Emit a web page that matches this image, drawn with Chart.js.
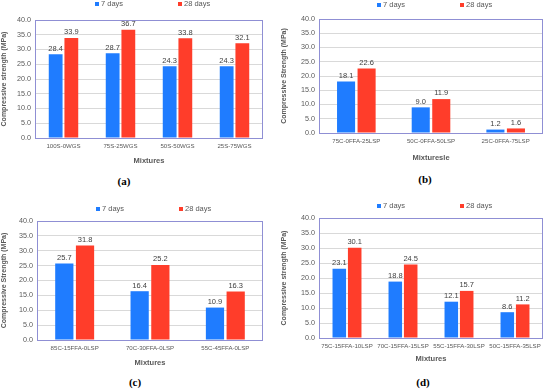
<!DOCTYPE html>
<html>
<head>
<meta charset="utf-8">
<script src="https://cdn.jsdelivr.net/npm/chart.js@4.4.0/dist/chart.umd.min.js"></script>
<style>
  body { margin:0; background:#fff; width:550px; height:389px; position:relative; overflow:hidden; font-family:"Liberation Sans", Arial, sans-serif; }
  .box { position:absolute; }
  .tag { position:absolute; width:40px; text-align:center; font-family:"Liberation Serif","Times New Roman",serif; font-weight:bold; font-size:11px; color:#000; }
</style>
</head>
<body>
<div class="box" style="left:0;top:0;width:272px;height:170px"><canvas id="chartA"></canvas></div>
<div class="box" style="left:280px;top:0;width:270px;height:165px"><canvas id="chartB"></canvas></div>
<div class="box" style="left:0;top:198px;width:272px;height:172px"><canvas id="chartC"></canvas></div>
<div class="box" style="left:280px;top:196px;width:270px;height:170px"><canvas id="chartD"></canvas></div>
<div class="tag" style="left:104px;top:175px">(a)</div>
<div class="tag" style="left:405px;top:173px">(b)</div>
<div class="tag" style="left:115px;top:376px">(c)</div>
<div class="tag" style="left:403px;top:376px">(d)</div>
<script>
  // ======== Data ========
  const seriesNames = ['7 days', '28 days'];
  const yTicks = [0, 5, 10, 15, 20, 25, 30, 35, 40];

  const mixA = ['100S-0WGS', '75S-25WGS', '50S-50WGS', '25S-75WGS'];
  const a7 = [28.4, 28.7, 24.3, 24.3];
  const a28 = [33.9, 36.7, 33.8, 32.1];

  const mixB = ['75C-0FFA-25LSP', '50C-0FFA-50LSP', '25C-0FFA-75LSP'];
  const b7 = [18.1, 9.0, 1.2];
  const b28 = [22.6, 11.9, 1.6];

  const mixC = ['85C-15FFA-0LSP', '70C-30FFA-0LSP', '55C-45FFA-0LSP'];
  const c7 = [25.7, 16.4, 10.9];
  const c28 = [31.8, 25.2, 16.3];

  const mixD = ['75C-15FFA-10LSP', '70C-15FFA-15LSP', '55C-15FFA-30LSP', '50C-15FFA-35LSP'];
  const d7 = [23.1, 18.8, 12.1, 8.6];
  const d28 = [30.1, 24.5, 15.7, 11.2];

  // ======== Styles ========
  const BLUE = '#1f7cff';
  const RED = '#ff3d2a';
  const TXT = '#595959';

  // frame around plot area + legend + value labels
  const extras = {
    id: 'extras',
    afterDraw(chart) {
      const { ctx, chartArea: a } = chart;
      ctx.save();
      ctx.strokeStyle = '#8f8fd4';
      ctx.lineWidth = 1;
      ctx.strokeRect(a.left + 0.5, a.top + 0.5, a.right - a.left - 1, a.bottom - a.top);

      // values on top of bars
      ctx.font = '7.5px "Liberation Sans", Arial, sans-serif';
      ctx.fillStyle = '#404040';
      ctx.textAlign = 'center';
      ctx.textBaseline = 'bottom';
      chart.data.datasets.forEach((ds, di) => {
        chart.getDatasetMeta(di).data.forEach((bar, i) => {
          ctx.fillText(ds.data[i].toFixed(1), bar.x, bar.y - 2);
        });
      });

      // legend
      const mid = (a.left + a.right) / 2;
      const offs = [-52, 31];
      const ly = chart.options.plugins.extras.legendY;
      ctx.textAlign = 'left';
      ctx.textBaseline = 'middle';
      ctx.font = '7.5px "Liberation Sans", Arial, sans-serif';
      chart.data.datasets.forEach((ds, di) => {
        const x = mid + offs[di];
        ctx.fillStyle = ds.backgroundColor;
        ctx.fillRect(x - 2, ly - 2, 4, 4);
        ctx.fillStyle = TXT;
        ctx.fillText(ds.label, x + 4, ly);
      });
      ctx.restore();
    }
  };

  function makeChart(id, labels, v7, v28, cfg) {
    return new Chart(document.getElementById(id), {
      type: 'bar',
      data: {
        labels: labels,
        datasets: [
          { label: seriesNames[0], data: v7, backgroundColor: BLUE, categoryPercentage: 0.55, barPercentage: 0.88 },
          { label: seriesNames[1], data: v28, backgroundColor: RED, categoryPercentage: 0.55, barPercentage: 0.88 }
        ]
      },
      options: {
        responsive: true,
        maintainAspectRatio: false,
        animation: false,
        layout: { padding: { top: cfg.top, right: cfg.right, left: 0, bottom: 0 } },
        plugins: {
          legend: { display: false },
          tooltip: { enabled: false },
          extras: { legendY: cfg.legendY }
        },
        scales: {
          x: {
            grid: { display: false, drawTicks: false },
            border: { display: false },
            ticks: { color: TXT, font: { size: 6.1 }, padding: 5, maxRotation: 0, autoSkip: false },
            title: { display: true, text: cfg.xTitle, color: TXT, font: { size: 7.5, weight: 'bold' }, padding: { top: 4, bottom: cfg.xTitlePad } },
            afterFit(s) { s.height = cfg.xH; }
          },
          y: {
            min: 0, max: 40,
            afterBuildTicks(s) { s.ticks = yTicks.map(v => ({ value: v })); },
            grid: { color: '#d9d9d9', drawTicks: false },
            border: { display: false },
            ticks: { color: TXT, font: { size: 7.2 }, padding: 4, callback: v => v.toFixed(1) },
            title: { display: true, text: cfg.yTitle, color: TXT, font: { size: 7, weight: 'bold' }, padding: { top: 0, bottom: 2 } },
            afterFit(s) { s.width = cfg.yW; }
          }
        }
      },
      plugins: [extras]
    });
  }

  makeChart('chartA', mixA, a7, a28, { top: 20, right: 9, xH: 32, yW: 35, legendY: 4, xTitlePad: 5,
    xTitle: 'Mixtures', yTitle: 'Compressive strength (MPa)' });
  makeChart('chartB', mixB, b7, b28, { top: 19, right: 7, xH: 32, yW: 39, legendY: 5, xTitlePad: 3,
    xTitle: 'Mixturesle', yTitle: 'Compressive Strength (MPa)' });
  makeChart('chartC', mixC, c7, c28, { top: 23, right: 9, xH: 30, yW: 37, legendY: 11, xTitlePad: 3,
    xTitle: 'Mixtures', yTitle: 'Compressive Strength (MPa)' });
  makeChart('chartD', mixD, d7, d28, { top: 22, right: 7, xH: 28, yW: 39, legendY: 10, xTitlePad: 3,
    xTitle: 'Mixtures', yTitle: 'Compressive strength (MPa)' });
</script>
</body>
</html>
